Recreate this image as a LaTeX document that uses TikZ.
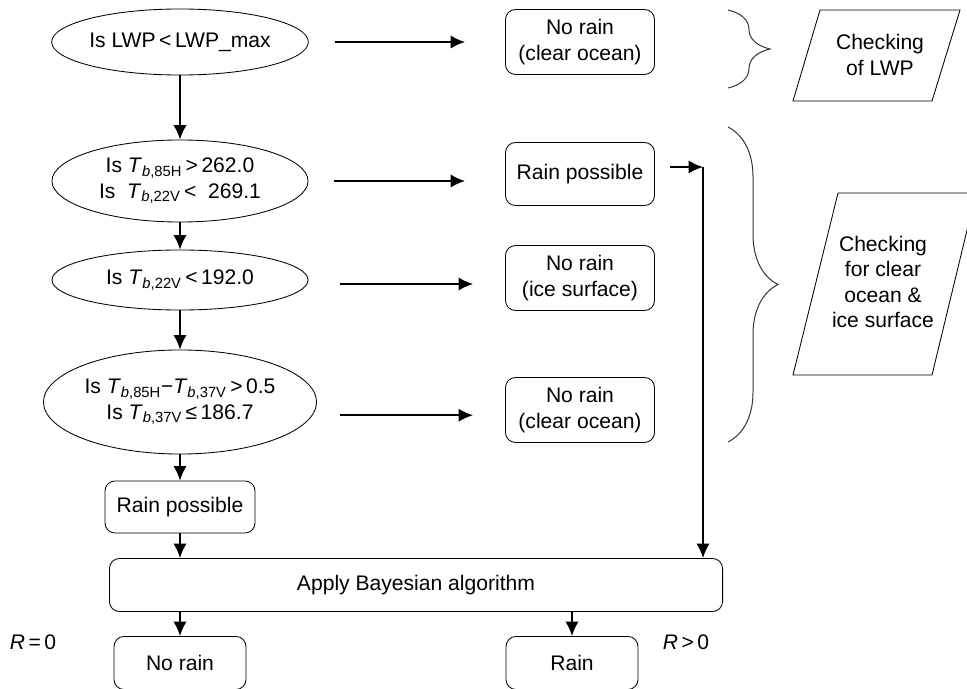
\documentclass[tikz,border=0pt]{standalone}
\usepackage{fontspec}
\setmainfont{Liberation Sans}
\usetikzlibrary{shapes.geometric,arrows.meta,decorations.pathreplacing}
\newcommand{\tbsub}[1]{\textit{T}\textsubscript{\textit{b},#1}}

\begin{document}
\begin{tikzpicture}[x=0.025cm, y=-0.025cm, >={Latex[length=3.6mm,width=3.3mm]},
    font=\fontsize{15}{18}\selectfont,
    test/.style={ellipse, draw, line width=0.6pt, inner sep=0pt, align=center},
    result/.style={rectangle, rounded corners=0.25cm, draw, line width=0.6pt, inner sep=0pt,
        minimum width=3.725cm, minimum height=1.625cm, align=center},
    flow/.style={->, line width=1.2pt},
    bracket/.style={decorate, draw=black!80, line width=0.7pt}]
    % 0. 画布范围
    \useasboundingbox (0,0) rectangle (967,689);
    \clip (0,0) rectangle (967,689);
    
    % 1. 左列判断（椭圆）
    \node[test, minimum width=6.375cm, minimum height=1.65cm] (lwp) at (180,42) {Is LWP\,<\,LWP\_max};
    \node[test, minimum width=6.4cm, minimum height=2.05cm] (tb85) at (180,181) {Is \tbsub{85H}\,>\,262.0\\Is \ \tbsub{22V}\,< \ 269.1};
    \node[test, minimum width=6.4cm, minimum height=1.5cm] (tb22) at (180,280) {Is \tbsub{22V}\,<\,192.0};
    \node[test, minimum width=6.825cm, minimum height=2.6cm] (tbdiff) at (180,402) {Is \tbsub{85H}−\tbsub{37V}\,>\,0.5\\Is \tbsub{37V}\,≤\,186.7};
    
    % 2. 结果框
    \node[result] (clear1) at (580,42) {No rain\\(clear ocean)};
    \node[result, minimum height=1.575cm] (maybe1) at (580,174) {Rain possible};
    \node[result] (ice) at (580,278) {No rain\\(ice surface)};
    \node[result] (clear2) at (580,410) {No rain\\(clear ocean)};
    \node[result, minimum width=3.75cm, minimum height=1.3cm] (maybe2) at (180,507) {Rain possible};
    \node[result, minimum width=15.325cm, minimum height=1.325cm] (bayes) at (416,585) {Apply Bayesian algorithm};
    \node[result, minimum width=3.3cm, minimum height=1.325cm] (norain) at (180,663) {No rain};
    \node[result, minimum width=3.3cm, minimum height=1.325cm] (rain) at (572,663) {Rain};
    
    % 3. R 的标注
    \node (rzero) at (33,642) {\textit{R}\,=\,0};
    \node (rpos) at (686,642) {\textit{R}\,>\,0};
    
    % 4. 竖直箭头
    \draw[flow] (lwp) -- (tb85);
    \draw[flow] (tb85) -- (tb22);
    \draw[flow] (tb22) -- (tbdiff);
    \draw[flow] (tbdiff) -- (maybe2);
    \draw[flow] (maybe2) -- (bayes.north -| maybe2);
    \draw[flow] (bayes.south -| norain) -- (norain);
    \draw[flow] (bayes.south -| rain) -- (rain);
    
    % 5. 水平箭头（两端留空）
    \draw[flow, shorten <=0.65cm, shorten >=1cm] (lwp.east) -- (lwp.east -| clear1.west);
    \draw[flow, shorten <=0.65cm, shorten >=1cm] (tb85.east) -- (tb85.east -| maybe1.west);
    \draw[flow, shorten <=0.8cm, shorten >=0.8cm] ([yshift=-0.1cm]tb22.east) -- ([yshift=-0.1cm]tb22.east -| ice.west);
    \draw[flow, shorten <=0.575cm, shorten >=0.8cm] ([yshift=-0.33cm]tbdiff.east) -- ([yshift=-0.33cm]tbdiff.east -| clear2.west);
    
    % 6. “Rain possible” 直接进入贝叶斯算法
    \coordinate (merge) at (703,167);
    \draw[flow, shorten <=0.375cm] (maybe1.east |- merge) -- (merge);
    \draw[flow] (merge) -- (merge |- bayes.north);
    
    % 7. 大括号与平行四边形说明
    \draw[bracket, decoration={brace, amplitude=1.05cm}] (728,10) -- (728,88);
    \draw[bracket, decoration={brace, amplitude=1.25cm}] (728,127) -- (728,442);
    
    \draw[line width=0.6pt] (793,101) -- (820,10) -- (960,10) -- (932,101) -- cycle;
    \node[align=center] (chklwp) at (880,55) {Checking\\of LWP};
    \draw[line width=0.6pt] (793,375) -- (838,193) -- (976,193) -- (932,375) -- cycle;
    \node[align=center] (chksurf) at (883,282) {Checking\\for clear\\ocean \&\\ice surface};
    
\end{tikzpicture}
\end{document}
